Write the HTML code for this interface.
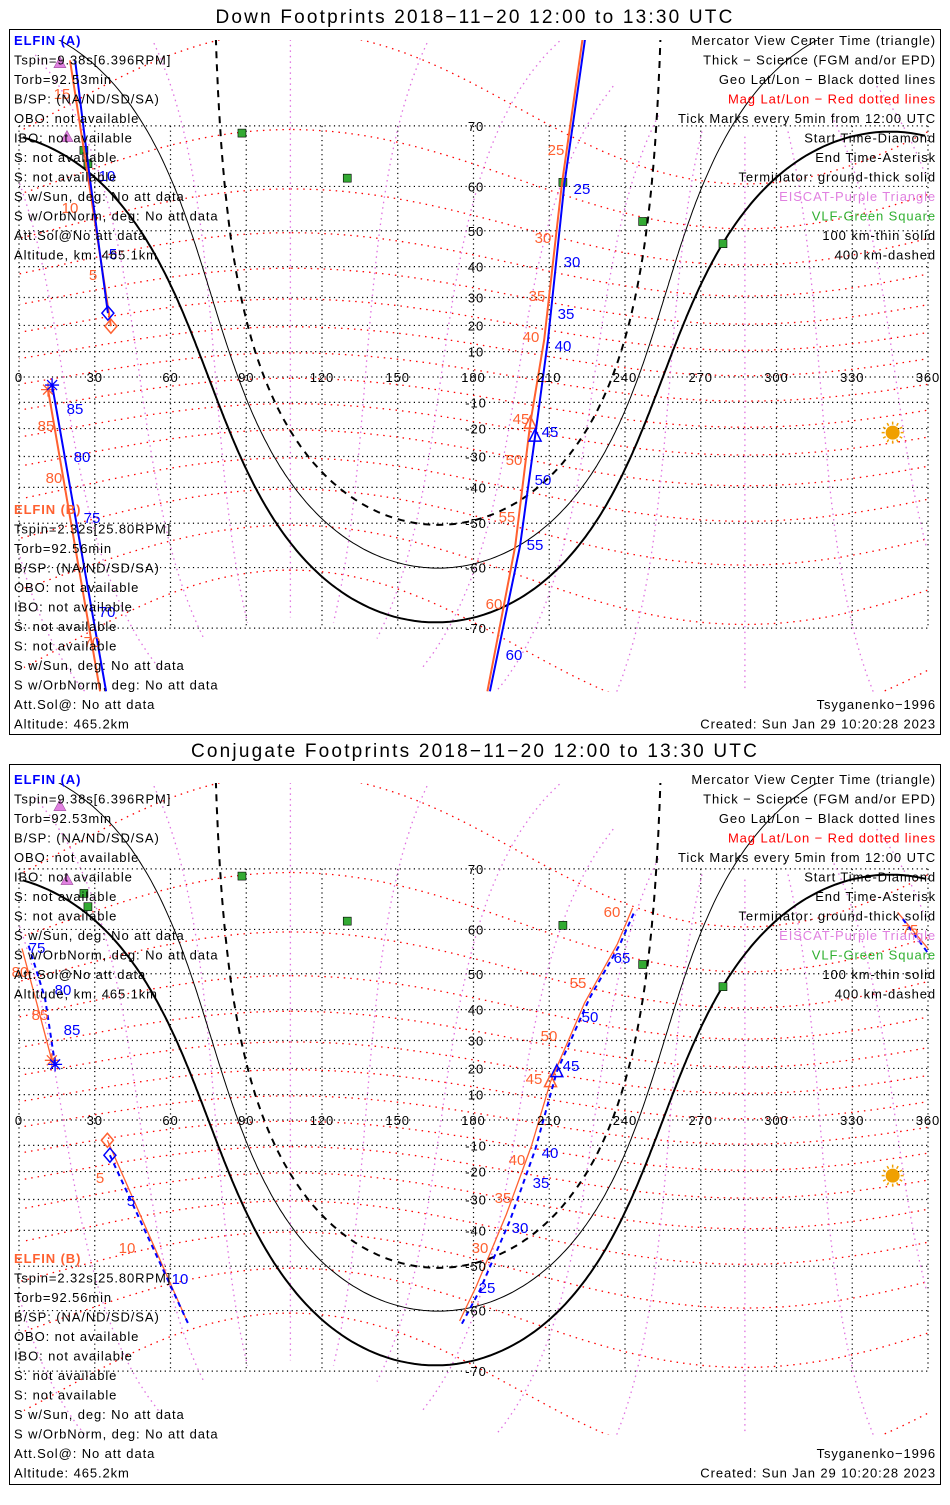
<!DOCTYPE html>
<html><head><meta charset="utf-8"><style>
html,body{margin:0;padding:0;background:#fff;}
svg text{font-family:"Liberation Sans",sans-serif;font-size:13px;letter-spacing:0.9px;}
</style></head><body>
<svg id="svg" width="950" height="1500" xmlns="http://www.w3.org/2000/svg">
<rect x="0" y="0" width="950" height="1500" fill="#fff"/>
<text x="475" y="23" text-anchor="middle" style="font-size:19px;letter-spacing:2.2px">Down Footprints 2018−11−20 12:00 to 13:30 UTC</text>
<rect x="9.5" y="29.5" width="931" height="705" fill="none" stroke="#000"/>
<text x="475" y="757" text-anchor="middle" style="font-size:19px;letter-spacing:2.2px">Conjugate Footprints 2018−11−20 12:00 to 13:30 UTC</text>
<rect x="9.5" y="764.5" width="931" height="720" fill="none" stroke="#000"/>
<g id="layers"></g>
</svg>
<script>
// ---- data ----
const latGrid=[-70,-60,-50,-40,-30,-20,-10,0,10,20,30,40,50,60,70];
const lonGrid=[0,30,60,90,120,150,180,210,240,270,300,330,360];
const magLats=[-70,-60,-50,-40,-30,-20,-10,0,10,20,30,40,50,60,70];
const magLons=[0,30,60,90,120,150,180,210,240,270,300,330];
const vlfLon=[88.3,130,215.4,247,278.8,25.7,27.3];
const vlfLat=[69.0,61.6,60.8,52.3,46.6,66.4,64.2];
const escatLon=[16.2,19];
const escatLat=[77,68.5];
const sunLon=346, sunLat=-21.5;
const termAltKm=[0,100,400];
const termCenterLat=[-20.8,-19.8,-19.8];
const termCenterLon=[345,346,346];
// top panel tracks (lon, lat)
const topA1Lon=[22.2,28.1,35.2], topA1Lat=[77.2,61.4,24.5];
const topB1Lon=[20.2,27.5,36.4], topB1Lat=[77.2,61.4,19.7];
const topA2Lon=[13.1,34.5], topA2Lat=[-3.2,-77];
const topB2Lon=[11.5,32.1], topB2Lat=[-5,-77];
const topAMLon=[225,216,209.5,204.4,198.4,186.5], topAMLat=[80,60.5,14.6,-22.8,-55.5,-77];
const topBMLon=[224,215,208,202.5,196.5,185.5], topBMLat=[80,60.5,14.6,-18,-55.5,-77];
// bottom panel tracks
const botA1Lon=[14.3,10.3,3.6], botA1Lat=[21.5,43.4,57];
const botB1Lon=[13,7,1.2], botB1Lat=[23,42,56];
const botA2Lon=[36,67], botA2Lat=[-13.8,-62.5];
const botB2Lon=[35,66], botB2Lat=[-8,-61.5];
const botAMLon=[175.4,182.6,194.5,204.4,213,226,238,244], botAMLat=[-62.5,-55.6,-36.8,-11.8,18.8,43.4,56.9,63.6];
const botBMLon=[174.5,181,193,203,210.5,224,237,243], botBMLat=[-62,-55,-35,-10,15,42,57,64];
const botRLon=[348,360], botRLat=[63.2,56];
const botRBLon=[350,360], botRBLat=[62,55];
// tick labels [text, x, y-offset-from-equator]
const topBlueTicks=[["10",107,-201],["5",113,-123],["85",75,32],["80",82,80],["75",92,141],["70",107,235],["25",582,-188],["30",572,-115],["35",566,-63],["40",563,-31],["45",550,55],["50",543,103],["55",535,168],["60",514,278]];
const topRedTicks=[["15",62,-283],["10",70,-169],["5",93,-102],["85",46,49],["80",54,101],["70",92,265],["25",556,-227],["30",543,-139],["35",537,-81],["40",531,-40],["45",521,42],["50",514,83],["55",507,140],["60",494,227]];
const botBlueTicks=[["75",37,-172],["80",63,-130],["85",72,-90],["45",571,-54],["50",590,-103],["65",622,-162],["40",550,33],["35",541,63],["30",520,108],["25",487,168],["5",131,81],["10",180,159]];
const botRedTicks=[["80",20,-148],["85",40,-105],["45",534,-41],["40",517,40],["35",503,78],["30",480,128],["5",100,58],["10",127,128],["50",549,-84],["55",578,-137],["60",612,-208],["75",910,-190]];

const leftA=["Tspin=9.38s[6.396RPM]","Torb=92.53min","B/SP: (NA/ND/SD/SA)","OBO: not available","IBO: not available","S: not available","S: not available","S w/Sun, deg: No att data","S w/OrbNorm, deg: No att data","Att.Sol@No att data","Altitude, km: 465.1km"];
const leftB=["Tspin=2.32s[25.80RPM]","Torb=92.56min","B/SP: (NA/ND/SD/SA)","OBO: not available","IBO: not available","S: not available","S: not available","S w/Sun, deg: No att data","S w/OrbNorm, deg: No att data","Att.Sol@: No att data","Altitude: 465.2km"];
const rightT=[["Mercator View Center Time (triangle)","#000"],["Thick − Science (FGM and/or EPD)","#000"],["Geo Lat/Lon − Black dotted lines","#000"],["Mag Lat/Lon − Red dotted lines","#f00"],["Tick Marks every 5min from 12:00 UTC","#000"],["Start Time-Diamond","#000"],["End Time-Asterisk","#000"],["Terminator: ground-thick solid","#000"],["EISCAT-Purple Triangle","#e080e0"],["VLF-Green Square","#30b030"],["100 km-thin solid","#000"],["400 km-dashed","#000"]];

// ---- helpers ----
const NS="http://www.w3.org/2000/svg";
const root=document.getElementById('layers');
const D=Math.PI/180;
function X(lon){return 19+lon*2.525;}
function Y(lat,oy){const l=Math.max(-85,Math.min(85,lat));return oy-144.7*Math.log(Math.tan(Math.PI/4+l*D/2));}
function mk(tag,attrs,parent){const e=document.createElementNS(NS,tag);for(const k in attrs)e.setAttribute(k,attrs[k]);(parent||root).appendChild(e);return e;}
function txt(s,x,y,fill,parent,anchor){const t=mk('text',{x:x,y:y,fill:fill||'#000','text-anchor':anchor||'start'},parent);t.textContent=s;return t;}
function segsToPath(pts,oy){
  let d='',prev=null;
  for(const p of pts){let lon=((p[0]%360)+360)%360;
    const x=X(lon),y=Y(p[1],oy);
    if(prev===null||Math.abs(lon-prev)>180)d+='M'+x.toFixed(1)+' '+y.toFixed(1);else d+='L'+x.toFixed(1)+' '+y.toFixed(1);
    prev=lon;}
  return d;}
function dest(lat0,lon0,c,az){
  const la=Math.asin(Math.sin(lat0*D)*Math.cos(c*D)+Math.cos(lat0*D)*Math.sin(c*D)*Math.cos(az*D));
  const lo=lon0*D+Math.atan2(Math.sin(az*D)*Math.sin(c*D)*Math.cos(lat0*D),Math.cos(c*D)-Math.sin(lat0*D)*Math.sin(la));
  return [lo/D,la/D];}

function panel(oy,name,tracks,blueT,redT){
  const g=mk('g',{});
  
  
  const clipId='clip'+oy;
  const cp=mk('clipPath',{id:clipId},g);
  mk('rect',{x:10,y:oy-337,width:930,height:652},cp);
  const m=mk('g',{'clip-path':'url(#'+clipId+')'},g);
  
  
  for(const la of latGrid){const l=mk('line',{x1:19,x2:928,y1:Y(la,oy),y2:Y(la,oy),stroke:'#000','stroke-width':1.2,'stroke-dasharray':'1.2 3.5'},m);
    
    }
  for(const lo of lonGrid){const l=mk('line',{x1:X(lo),x2:X(lo),y1:Y(70,oy),y2:Y(-70,oy),stroke:'#000','stroke-width':1.2,'stroke-dasharray':'1.2 3.5'},m);
    
    }
  for(const ml of magLats){const pts=[];for(let a=0;a<=360;a+=2)pts.push(dest(80.5,287.5,90-ml,a));
    const p=mk('path',{d:segsToPath(pts,oy),fill:'none',stroke:'#f00','stroke-width':1.3,'stroke-dasharray':'1.5 5'},m);
    
    }
  for(const mlo of magLons){const pts=[];for(let c=12;c<=168;c+=2)pts.push(dest(80.5,287.5,c,mlo));
    const p=mk('path',{d:segsToPath(pts,oy),fill:'none',stroke:'#e070e0','stroke-width':1.3,'stroke-dasharray':'1.5 4'},m);
    
    }
  termAltKm.forEach((h,i)=>{const dd=h>0?Math.acos(6371/(6371+h))/D:0;
    const raw=[];for(let a=0;a<=360;a+=1)raw.push(dest(termCenterLat[i],termCenterLon[i],90+dd,a));
    const p=mk('path',{d:segsToPath(raw,oy),fill:'none',stroke:'#000','stroke-width':h===100?1:2,'stroke-dasharray':h===400?'7 6':'none'},m);
    
    });
  const lonLbl=[0,30,60,90,120,150,180,210,240,270,300,330,360];
  lonLbl.forEach(v=>{const t=txt(String(v),X(v),oy+5,'#000',g,'middle');});
  latGrid.forEach(v=>{if(v===0)return;const t=txt(String(v),476,Y(v,oy)+5,'#000',g,'middle');});
  vlfLon.forEach((lo,i)=>{const r=mk('rect',{x:X(lo)-4,y:Y(vlfLat[i],oy)-4,width:8,height:8,fill:'#3a3',stroke:'#000','stroke-width':0.6},m);
    
    });
  escatLon.forEach((lo,i)=>{const x=X(lo),y=Y(escatLat[i],oy);const p=mk('polygon',{points:`${x-6},${y+5} ${x+6},${y+5} ${x},${y-6}`,fill:'#e080e0',stroke:'#a050a0','stroke-width':0.6},m);
    
    });
  const sx=X(sunLon),sy=Y(sunLat,oy);
  const sg=mk('g',{},m);
  
  
  for(let a=0;a<360;a+=30)mk('line',{x1:sx+8*Math.cos(a*D),y1:sy+8*Math.sin(a*D),x2:sx+11*Math.cos(a*D),y2:sy+11*Math.sin(a*D),stroke:'#f0a000','stroke-width':1.5},sg);
  mk('circle',{cx:sx,cy:sy,r:7,fill:'#f0a000'},sg);
  tracks.forEach(tr=>{const pts=tr.lon.map((v,i)=>[v,tr.lat[i]]);
    let d='';pts.forEach((p,i)=>{d+=(i?'L':'M')+X(p[0]).toFixed(1)+' '+Y(p[1],oy).toFixed(1);});
    const p=mk('path',{d:d,fill:'none',stroke:tr.color,'stroke-width':tr.w||2,'stroke-dasharray':tr.dash||'none'},m);
    
    
    if(tr.startPt){const x=X(tr.startPt[0]),y=Y(tr.startPt[1],oy);const dm=mk('polygon',{points:`${x},${y-7} ${x+6},${y} ${x},${y+7} ${x-6},${y}`,fill:'none',stroke:tr.color,'stroke-width':1.5},m);
      
      }
    if(tr.endPt){const x=X(tr.endPt[0]),y=Y(tr.endPt[1],oy);const st=mk('path',{d:`M${x-7} ${y}H${x+7}M${x} ${y-7}V${y+7}M${x-5} ${y-5}L${x+5} ${y+5}M${x-5} ${y+5}L${x+5} ${y-5}`,stroke:tr.color,'stroke-width':1.3},m);
      
      }
    if(tr.tri){const x=X(tr.tri[0]),y=Y(tr.tri[1],oy);const t=mk('polygon',{points:`${x-6},${y+5} ${x+6},${y+5} ${x},${y-7}`,fill:'none',stroke:tr.color,'stroke-width':1.5},m);
      
      }
  });
  blueT.forEach(t=>{const e=txt(t[0],t[1],oy+t[2]+5,'#00f',g,'middle');e.setAttribute('style','font-size:15px;letter-spacing:0');});
  redT.forEach(t=>{const e=txt(t[0],t[1],oy+t[2]+5,'#ff6030',g,'middle');e.setAttribute('style','font-size:15px;letter-spacing:0');});
}

function texts(topOff,botOff){
  const g=mk('g',{});
  
  
  const h=txt('ELFIN (A)',14,45+topOff,'#00f',g);h.setAttribute('font-weight','bold');
  leftA.forEach((s,i)=>txt(s,14,64.5+topOff+i*19.5,'#000',g));
  txt('ELFIN (B)',14,514+botOff,'#ff6030',g).setAttribute('font-weight','bold');
  leftB.forEach((s,i)=>txt(s,14,533.5+botOff+i*19.5,'#000',g));
  rightT.forEach((s,i)=>txt(s[0],936,45+topOff+i*19.5,s[1],g,'end'));
  txt('Tsyganenko−1996',936,709+botOff,'#000',g,'end');
  txt('Created: Sun Jan 29 10:20:28 2023',936,728.5+botOff,'#000',g,'end');
}

const topTracks=[
 {name:'track-b-north',lon:topB1Lon,lat:topB1Lat,color:'#ff6030',startPt:[topB1Lon[2],topB1Lat[2]]},
 {name:'track-a-north',lon:topA1Lon,lat:topA1Lat,color:'#00f',startPt:[topA1Lon[2],topA1Lat[2]]},
 {name:'track-b-south',lon:topB2Lon,lat:topB2Lat,color:'#ff6030',endPt:[topB2Lon[0],topB2Lat[0]]},
 {name:'track-a-south',lon:topA2Lon,lat:topA2Lat,color:'#00f',endPt:[topA2Lon[0],topA2Lat[0]]},
 {name:'track-b-middle',lon:topBMLon,lat:topBMLat,color:'#ff6030',tri:[topBMLon[3],topBMLat[3]]},
 {name:'track-a-middle',lon:topAMLon,lat:topAMLat,color:'#00f',tri:[topAMLon[3],topAMLat[3]]}
];
const botTracks=[
 {name:'track-b-west',lon:botB1Lon,lat:botB1Lat,color:'#ff6030',endPt:[botB1Lon[0],botB1Lat[0]],w:1.3},
 {name:'track-a-west',lon:botA1Lon,lat:botA1Lat,color:'#00f',dash:'5 4',endPt:[botA1Lon[0],botA1Lat[0]]},
 {name:'track-b-diamond',lon:botB2Lon,lat:botB2Lat,color:'#ff6030',startPt:[botB2Lon[0],botB2Lat[0]],w:1.3},
 {name:'track-a-diamond',lon:botA2Lon,lat:botA2Lat,color:'#00f',dash:'5 4',startPt:[botA2Lon[0],botA2Lat[0]]},
 {name:'track-b-middle',lon:botBMLon,lat:botBMLat,color:'#ff6030',w:1.3,tri:[botBMLon[4],botBMLat[4]]},
 {name:'track-a-middle',lon:botAMLon,lat:botAMLat,color:'#00f',dash:'5 4',tri:[botAMLon[4],botAMLat[4]]},
 {name:'track-b-east',lon:botRLon,lat:botRLat,color:'#ff6030',w:1.3},
 {name:'track-a-east',lon:botRBLon,lat:botRBLat,color:'#00f',dash:'5 4'}
];
panel(377,'top-map-panel',topTracks,topBlueTicks,topRedTicks);
panel(1120,'bottom-map-panel',botTracks,botBlueTicks,botRedTicks);
texts(0,0);
texts(739,749);
</script>
</body></html>
